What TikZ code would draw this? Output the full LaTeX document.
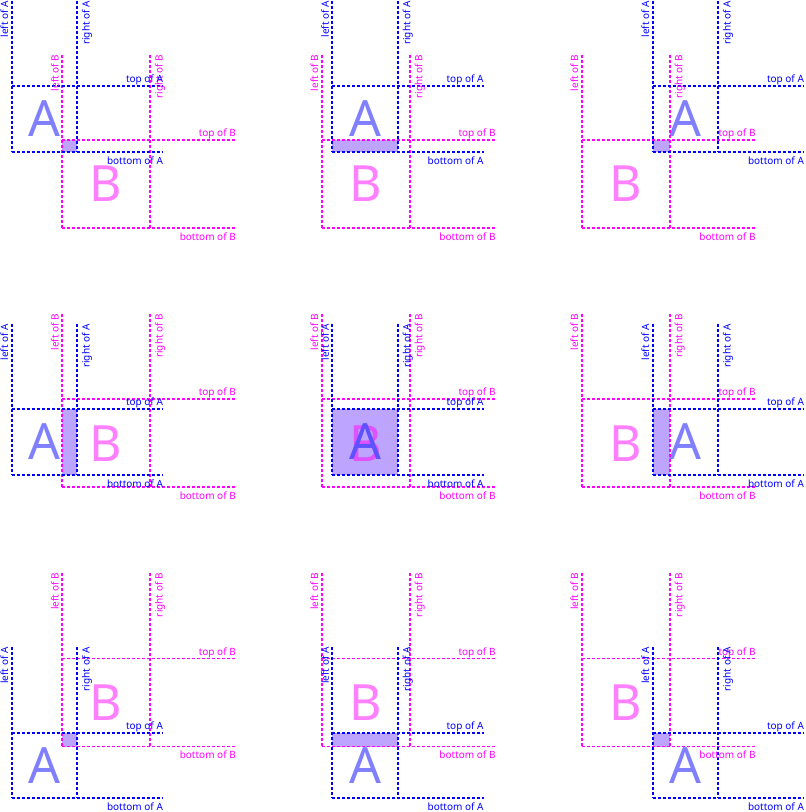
\documentclass[tikz,border=0pt]{standalone}
\usepackage{fontspec}
\setmainfont{Noto Sans}
\definecolor{ovl}{RGB}{188,164,255}
\definecolor{colA}{RGB}{0,0,255}
\definecolor{colB}{RGB}{255,0,255}
\definecolor{lightA}{RGB}{128,128,255}
\definecolor{lightB}{RGB}{255,128,255}
\definecolor{deepA}{RGB}{94,82,255}
\definecolor{deepB}{RGB}{222,82,255}
\tikzset{
  lineA/.style={color=colA, line width=1.8pt, dash pattern=on 3pt off 2pt},
  lineB/.style={color=colB, line width=1.8pt, dash pattern=on 3pt off 2pt},
  labA/.style={text=colA, inner sep=0pt, font=\fontsize{10}{12}\selectfont},
  labB/.style={text=colB, inner sep=0pt, font=\fontsize{10}{12}\selectfont},
  bigA/.style={text=lightA, inner sep=0pt, font=\fontsize{50}{60}\selectfont},
  bigB/.style={text=lightB, inner sep=0pt, font=\fontsize{50}{60}\selectfont},
  ovlfill/.style={fill=ovl},
  plainA/.style={}, plainB/.style={},
  deepA/.style={text=deepA}, deepB/.style={text=deepB}
}
% #1 panel, #2 letter, #3 left, #4 top, #5 size
\newcommand{\rectlines}[5]{%
  \pgfmathsetmacro{\rlT}{#4-85.5}%
  \pgfmathsetmacro{\rlB}{#4+#5}%
  \pgfmathsetmacro{\rlR}{#3+#5}%
  \pgfmathsetmacro{\rlE}{#3+#5+86}%
  \coordinate (#1#2lt) at (#3,\rlT);
  \coordinate (#1#2lb) at (#3,\rlB);
  \coordinate (#1#2rt) at (\rlR,\rlT);
  \coordinate (#1#2rb) at (\rlR,\rlB);
  \coordinate (#1#2tl) at (#3,#4);
  \coordinate (#1#2tr) at (\rlE,#4);
  \coordinate (#1#2bl) at (#3,\rlB);
  \coordinate (#1#2br) at (\rlE,\rlB);
  \draw[line#2] (#1#2lt) -- (#1#2lb) (#1#2rt) -- (#1#2rb) (#1#2tl) -- (#1#2tr) (#1#2bl) -- (#1#2br);
}
\newcommand{\rectlabels}[2]{%
  \node[lab#2, rotate=90, anchor=base east] (#1#2left) at ([xshift=-3.5pt]#1#2lt) {left of #2};
  \node[lab#2, rotate=90, anchor=base east] (#1#2right) at ([xshift=12.6pt]#1#2rt) {right of #2};
  \node[lab#2, anchor=base east] (#1#2top) at ([yshift=3.5pt]#1#2tr) {top of #2};
  \node[lab#2, anchor=base east] (#1#2bottom) at ([yshift=-12.3pt]#1#2br) {bottom of #2};
}
% #1 panel, #2 A left, #3 A top, #4 B left, #5 B top, #6 letter style prefix
\newcommand{\drawpanel}[6]{%
  \pgfmathsetmacro{\ovxa}{max(#2,#4)}%
  \pgfmathsetmacro{\ovya}{max(#3,#5)}%
  \pgfmathsetmacro{\ovxb}{min(#2+65.4,#4+88)}%
  \pgfmathsetmacro{\ovyb}{min(#3+65.4,#5+88)}%
  \fill[ovlfill] (\ovxa,\ovya) rectangle (\ovxb,\ovyb);
  \pgfmathsetmacro{\cBx}{#4+44}%
  \pgfmathsetmacro{\cBy}{#5+44}%
  \pgfmathsetmacro{\cAx}{#2+32.7}%
  \pgfmathsetmacro{\cAy}{#3+32.7}%
  \node[bigB, #6B] (#1bigB) at (\cBx,\cBy) {B};
  \node[bigA, #6A] (#1bigA) at (\cAx,\cAy) {A};
  \rectlines{#1}{B}{#4}{#5}{88}%
  \rectlines{#1}{A}{#2}{#3}{65.4}%
  \rectlabels{#1}{B}%
  \rectlabels{#1}{A}%
}
\begin{document}
\begin{tikzpicture}[x=1pt,y=-1pt]
\useasboundingbox (0,0) rectangle (806,812);
\drawpanel{pa}{11.7}{86.3}{62}{140}{plain}
\drawpanel{pb}{332.3}{86.3}{321.7}{140}{plain}
\drawpanel{pc}{652.7}{86.3}{581.7}{140}{plain}
\drawpanel{pd}{11.7}{409.3}{62}{399.3}{plain}
\drawpanel{pe}{332.3}{409.3}{321.7}{399.3}{deep}
\drawpanel{pf}{652.7}{409.3}{581.7}{399.3}{plain}
\drawpanel{pg}{11.7}{732.8}{62}{658.5}{plain}
\drawpanel{ph}{332.3}{732.8}{321.7}{658.5}{plain}
\drawpanel{pi}{652.7}{732.8}{581.7}{658.5}{plain}
\end{tikzpicture}
\end{document}
